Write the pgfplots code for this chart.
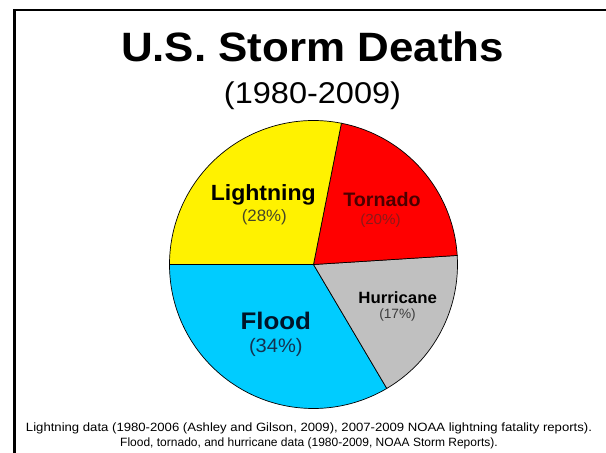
\documentclass[border=0pt]{standalone}
\usepackage{fontspec}
\setmainfont{Liberation Sans}
\usepackage{graphicx}
\usepackage{pgfplots}
\pgfplotsset{compat=1.18}
\definecolor{floodblue}{RGB}{0,204,255}
\definecolor{hurrgray}{RGB}{192,192,192}
\definecolor{pctlight}{RGB}{70,70,40}
\definecolor{torntext}{RGB}{75,0,0}
\definecolor{tornpct}{RGB}{140,25,25}
\definecolor{hurrpct}{RGB}{60,60,60}
\definecolor{floodtext}{RGB}{0,20,40}
\definecolor{floodpct}{RGB}{20,50,80}
% label: x, image y of baseline, ink width, font size, colour, text
\newcommand\lab[6]{\node[anchor=base, inner sep=0pt, text=#5] at (#1pt,{(453-#2)*1pt}) {\resizebox{#3pt}{\height}{\fontsize{#4}{#4}\selectfont #6}};}
% pie slice: start share (%), share (%), colour
\newcommand\pieslice[3]{\filldraw[fill=#3, draw=black, line width=0.7pt] (axis cs:0,0) -- ++({180+3.6*#1}:144pt) arc[start angle={180+3.6*#1}, delta angle={3.6*#2}, radius=144pt] -- cycle;}
\begin{document}
\begin{tikzpicture}
\useasboundingbox (0,0) rectangle (606pt,453pt);
\fill[white] (0,0) rectangle (606pt,453pt);
\draw[line width=3pt] (14.5pt,0pt) -- (14.5pt,443pt);
\draw[line width=2.5pt] (13pt,443pt) -- (606pt,443pt);
\begin{axis}[at={(313.5pt,188.5pt)}, anchor=center, x=1pt, y=1pt,
  xmin=-150, xmax=150, ymin=-150, ymax=150, hide axis, clip=false]
% shares of deaths (%), counter-clockwise from 180 deg
\pieslice{0}{33.5}{floodblue}
\pieslice{33.5}{17.5}{hurrgray}
\pieslice{51.0}{20.9}{red}
\pieslice{71.9}{28.1}{yellow}
\end{axis}
\lab{312.5}{62}{383}{41}{black}{\bfseries U.S. Storm Deaths}
\lab{312.5}{103.5}{177}{30}{black}{(1980-2009)}
\lab{263.3}{200.7}{105}{22}{black}{\bfseries Lightning}
\lab{264.3}{221.5}{45}{16.5}{pctlight}{(28\%)}
\lab{382}{206.7}{77.5}{19.5}{torntext}{\bfseries Tornado}
\lab{380.5}{225}{40.5}{14.5}{tornpct}{(20\%)}
\lab{397.7}{303.3}{78.5}{16.3}{black}{\bfseries Hurricane}
\lab{397.5}{319}{36.5}{13.5}{hurrpct}{(17\%)}
\lab{275.8}{330}{70.5}{24}{floodtext}{\bfseries Flood}
\lab{275.8}{352.5}{53.5}{19.5}{floodpct}{(34\%)}
\lab{309}{431.5}{566}{12}{black}{Lightning data (1980-2006 (Ashley and Gilson, 2009), 2007-2009 NOAA lightning fatality reports).}
\node[anchor=base, inner sep=0pt] at (309pt,{(453-447)*1pt}) {\fontsize{12}{12}\selectfont Flood, tornado, and hurricane data (1980-2009, NOAA Storm Reports).};
\end{tikzpicture}
\end{document}
